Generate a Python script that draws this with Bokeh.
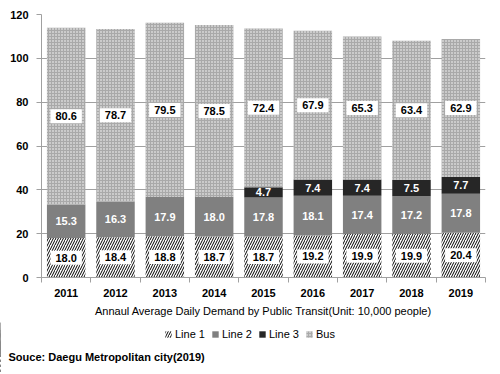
import numpy as np
import pandas as pd
from bokeh.plotting import figure
from bokeh.layouts import column
from bokeh.models import (ColumnDataSource, Range1d, FixedTicker, Legend,
                          LegendItem, Label)
from bokeh.core.properties import value
from bokeh.embed import file_html
from bokeh.resources import INLINE

years = ["2011", "2012", "2013", "2014", "2015", "2016", "2017", "2018", "2019"]
line1 = [18.0, 18.4, 18.8, 18.7, 18.7, 19.2, 19.9, 19.9, 20.4]
line2 = [15.3, 16.3, 17.9, 18.0, 17.8, 18.1, 17.4, 17.2, 17.8]
line3 = [0.0, 0.0, 0.0, 0.0, 4.7, 7.4, 7.4, 7.5, 7.7]
bus = [80.6, 78.7, 79.5, 78.5, 72.4, 67.9, 65.3, 63.4, 62.9]
y_ticks = [0, 20, 40, 60, 80, 100, 120]
series_names = ["Line 1", "Line 2", "Line 3", "Bus"]

FONT = "Liberation Sans"

df = pd.DataFrame({"year": years, "l1": line1, "l2": line2, "l3": line3, "bus": bus})
df["x"] = np.arange(len(years)) + 0.5
df["b1"] = 0.0
df["t1"] = df["l1"]
df["b2"] = df["t1"]
df["t2"] = df["b2"] + df["l2"]
df["b3"] = df["t2"]
df["t3"] = df["b3"] + df["l3"]
df["b4"] = df["t3"]
df["t4"] = df["b4"] + df["bus"]
for k in ("1", "2", "3", "4"):
    df["m" + k] = (df["b" + k] + df["t" + k]) / 2
df["s1"] = df["l1"].map(lambda v: f"{v:.1f}")
df["s2"] = df["l2"].map(lambda v: f"{v:.1f}")
df["s3"] = df["l3"].map(lambda v: f"{v:.1f}" if v > 0 else "")
df["s4"] = df["bus"].map(lambda v: f"{v:.1f}")
src = ColumnDataSource(df)
src3 = ColumnDataSource(df[df["l3"] > 0])

styles = [
    dict(fill_color="white", line_color=None, hatch_pattern="/", hatch_color="black",
         hatch_scale=5, hatch_weight=1),
    dict(fill_color="#808080", line_color=None),
    dict(fill_color="#262626", line_color=None),
    dict(fill_color="#a9a9a9", line_color=None, hatch_pattern=".", hatch_color="white",
         hatch_scale=3, hatch_weight=2),
]
cols = [("b1", "t1"), ("b2", "t2"), ("b3", "t3"), ("b4", "t4")]

p = figure(width=500, height=322, output_backend="svg", toolbar_location=None,
           x_range=Range1d(0, len(years)), y_range=Range1d(0, 120),
           min_border_left=41, min_border_right=15, min_border_top=14, min_border_bottom=45)
p.outline_line_color = None
p.background_fill_color = "white"
p.frame_align = False

W = 0.78
for (b, t), st in zip(cols, styles):
    p.vbar(x="x", bottom=b, top=t, width=W, source=src3 if b == "b3" else src, **st)

pad = dict(left=5, right=5, top=3, bottom=3)
common = dict(x="x", text_font=value(FONT), text_font_size="11px", text_font_style="bold",
              text_align="center", text_baseline="middle")
p.text(y="m1", text="s1", source=src, text_color="black",
       background_fill_color="white", padding=pad, **common)
p.text(y="m2", text="s2", source=src, text_color="white", **common)
p.text(y="m3", text="s3", source=src3, text_color="white", **common)
p.text(y="m4", text="s4", source=src, text_color="black",
       background_fill_color="white", padding=pad, **common)

# axes
xa = p.xaxis[0]
xa.ticker = FixedTicker(ticks=list(df["x"]), minor_ticks=list(range(len(years) + 1)))
xa.major_label_overrides = {float(x): y for x, y in zip(df["x"], years)}
xa.major_tick_out = 0
xa.major_tick_in = 0
xa.minor_tick_out = 5
xa.minor_tick_in = 0
xa.minor_tick_line_color = "#a0a0a0"
xa.axis_line_color = "#a0a0a0"
xa.major_label_text_font = FONT
xa.major_label_text_font_size = "11px"
xa.major_label_text_font_style = "bold"
xa.major_label_text_color = "black"
xa.major_label_standoff = 6
xa.axis_label = "Annaul Average Daily Demand by Public Transit(Unit: 10,000 people)"
xa.axis_label_text_font = FONT
xa.axis_label_text_font_size = "11px"
xa.axis_label_text_font_style = "normal"
xa.axis_label_text_color = "black"
xa.axis_label_standoff = 5

ya = p.yaxis[0]
ya.ticker = FixedTicker(ticks=y_ticks, minor_ticks=[])
ya.major_tick_out = 5
ya.major_tick_in = 0
ya.major_tick_line_color = "#a0a0a0"
ya.axis_line_color = "#a0a0a0"
ya.major_label_text_font = FONT
ya.major_label_text_font_size = "11px"
ya.major_label_text_font_style = "bold"
ya.major_label_text_color = "black"
ya.major_label_standoff = 8

p.xgrid.grid_line_color = None
p.ygrid.grid_line_color = "#a0a0a0"
p.ygrid.grid_line_width = 1

# footer figure: legend + source note (swatch renderers sit outside its visible range)
f = figure(width=500, height=52, output_backend="svg", toolbar_location=None,
           x_range=Range1d(1000, 1500), y_range=Range1d(0, 52),
           min_border=0, x_axis_type=None, y_axis_type=None)
f.outline_line_color = None
f.frame_align = False
f.xgrid.visible = False
f.ygrid.visible = False
items = []
for name, (b, t), st in zip(series_names, cols, styles):
    r = f.vbar(x="x", bottom=b, top=t, width=W, source=src, **st)
    items.append(LegendItem(label=name, renderers=[r]))

legend = Legend(items=items, orientation="horizontal", location=(164, 34),
                label_text_font=FONT, label_text_font_size="11px",
                label_text_font_style="normal", label_text_color="black",
                glyph_width=8, glyph_height=8, label_height=12, label_standoff=3,
                spacing=6, padding=4, margin=0, border_line_color=None,
                background_fill_alpha=0)
f.add_layout(legend, "center")

note = Label(x=8, y=18, x_units="screen", y_units="screen",
             text="Souce: Daegu Metropolitan  city(2019)", text_font=FONT,
             text_font_size="11px", text_font_style="bold", text_color="black",
             text_baseline="middle", text_align="left")
f.add_layout(note)

layout = column(p, f, spacing=0)
open("out.html", "w").write(file_html(layout, INLINE))
